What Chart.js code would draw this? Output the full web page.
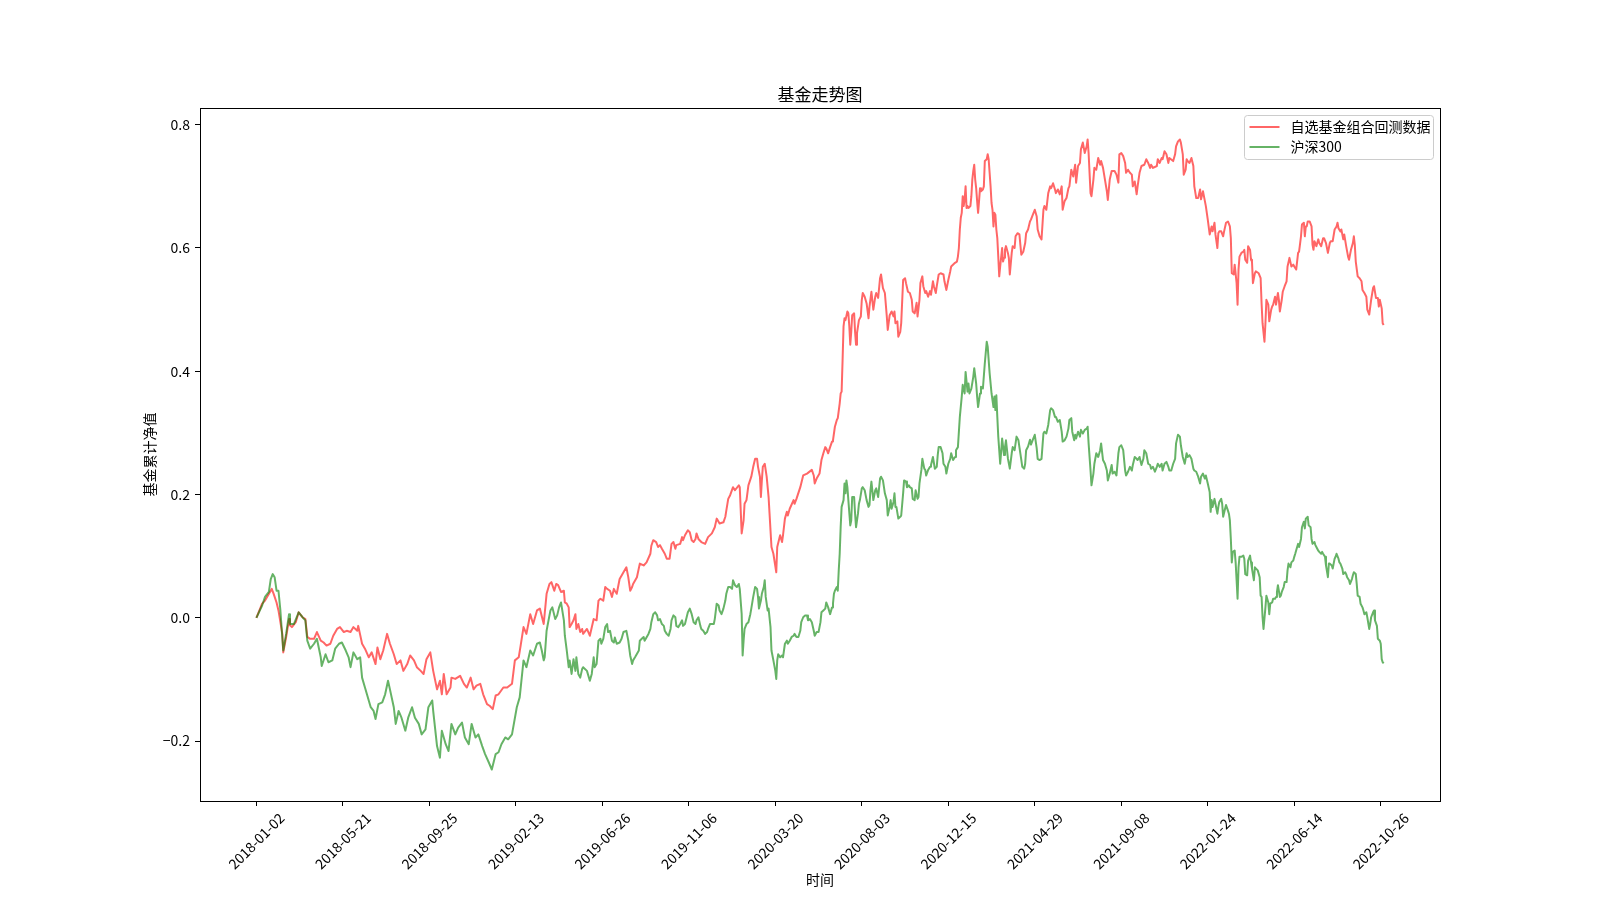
<!DOCTYPE html>
<html>
<head>
<meta charset="utf-8">
<title>基金走势图</title>
<script src="https://cdn.jsdelivr.net/npm/chart.js@4/dist/chart.umd.min.js"></script>
<style>
  html, body { margin: 0; padding: 0; background: #fff; }
  #wrap { width: 1600px; height: 900px; }
</style>
</head>
<body>
<div id="wrap"><canvas id="myChart" width="1600" height="900"></canvas></div>
<script>
// 交易日序号 -> 日期（x轴刻度，每90个交易日一个）
const tickDay = [0, 90, 180, 270, 360, 450, 540, 630, 720, 810, 900, 990, 1080, 1170];
const tickDates = ['2018-01-02', '2018-05-21', '2018-09-25', '2019-02-13', '2019-06-26', '2019-11-06',
    '2020-03-20', '2020-08-03', '2020-12-15', '2021-04-29', '2021-09-08', '2022-01-24', '2022-06-14', '2022-10-26'];
const yTicks = [-0.2, 0, 0.2, 0.4, 0.6, 0.8];

// [交易日序号, 累计净值]
const fund = [
    [0,0],[6,0.023],[9,0.028],[16,0.047],[18,0.039],[21,0.025],[23,0.012],[27,-0.026],[28,-0.056],[31,-0.031],
    [34,-0.002],[35,-0.012],[37,-0.015],[41,-0.007],[44,0.009],[48,0.001],[51,-0.002],[53,-0.031],[56,-0.034],[60,-0.034],
    [63,-0.023],[67,-0.037],[70,-0.040],[73,-0.045],[77,-0.042],[80,-0.029],[84,-0.018],[87,-0.015],[91,-0.023],[94,-0.021],
    [98,-0.023],[101,-0.015],[105,-0.021],[106,-0.013],[110,-0.042],[113,-0.050],[117,-0.064],[120,-0.056],[124,-0.075],[126,-0.048],
    [129,-0.067],[132,-0.053],[136,-0.026],[139,-0.042],[143,-0.059],[146,-0.075],[150,-0.069],[153,-0.086],[157,-0.075],[160,-0.061],
    [164,-0.069],[167,-0.080],[171,-0.086],[174,-0.091],[177,-0.067],[181,-0.056],[184,-0.086],[188,-0.116],[191,-0.102],[193,-0.124],
    [195,-0.091],[198,-0.124],[202,-0.113],[203,-0.097],[207,-0.099],[212,-0.094],[216,-0.107],[219,-0.113],[223,-0.097],[226,-0.116],
    [229,-0.110],[233,-0.107],[236,-0.124],[240,-0.140],[243,-0.143],[246,-0.148],[249,-0.126],[252,-0.124],[257,-0.113],[261,-0.113],
    [266,-0.107],[269,-0.069],[273,-0.064],[275,-0.045],[278,-0.015],[281,-0.026],[285,0.006],[288,-0.010],[292,0.012],[295,0.015],
    [299,-0.010],[302,0.039],[305,0.055],[307,0.058],[310,0.044],[312,0.055],[314,0.053],[317,0.042],[320,0.044],[321,0.025],
    [323,0.023],[325,0.017],[326,-0.015],[328,-0.010],[330,-0.004],[332,0.006],[333,-0.018],[335,-0.010],[337,-0.023],[339,-0.018],
    [340,-0.026],[344,-0.018],[347,-0.029],[351,-0.002],[354,-0.004],[356,0.028],[358,0.031],[361,0.028],[363,0.050],[365,0.047],
    [368,0.044],[370,0.034],[372,0.047],[373,0.044],[375,0.039],[378,0.063],[382,0.074],[385,0.082],[387,0.066],[389,0.044],
    [391,0.050],[392,0.055],[396,0.066],[399,0.088],[403,0.085],[406,0.090],[410,0.104],[411,0.117],[413,0.126],[416,0.123],
    [418,0.115],[420,0.118],[422,0.112],[425,0.104],[427,0.096],[430,0.096],[432,0.120],[434,0.123],[436,0.112],[437,0.118],
    [441,0.120],[443,0.131],[444,0.126],[446,0.134],[449,0.142],[451,0.139],[453,0.126],[455,0.123],[457,0.128],[458,0.137],
    [460,0.128],[463,0.123],[467,0.120],[470,0.131],[474,0.137],[477,0.147],[479,0.161],[482,0.153],[486,0.155],[488,0.164],
    [489,0.174],[491,0.193],[493,0.199],[496,0.212],[498,0.207],[502,0.215],[503,0.212],[505,0.137],[507,0.158],[508,0.185],
    [510,0.191],[512,0.215],[515,0.229],[517,0.245],[519,0.258],[521,0.258],[522,0.245],[524,0.229],[525,0.196],[526,0.223],
    [527,0.245],[529,0.250],[531,0.229],[533,0.196],[534,0.169],[536,0.115],[538,0.104],[541,0.074],[542,0.115],[545,0.134],
    [547,0.123],[548,0.134],[550,0.161],[552,0.172],[553,0.166],[555,0.177],[559,0.191],[560,0.185],[562,0.193],[566,0.212],
    [569,0.231],[573,0.234],[578,0.240],[580,0.231],[581,0.218],[583,0.226],[586,0.234],[588,0.256],[590,0.267],[592,0.277],
    [593,0.275],[595,0.267],[597,0.277],[599,0.286],[600,0.288],[602,0.310],[604,0.321],[605,0.324],[607,0.348],[608,0.364],
    [609,0.367],[610,0.418],[611,0.473],[612,0.486],[613,0.483],[615,0.497],[616,0.494],[617,0.473],[618,0.443],[619,0.464],
    [620,0.491],[622,0.494],[623,0.464],[624,0.443],[625,0.462],[627,0.483],[629,0.489],[630,0.516],[631,0.527],[633,0.521],
    [635,0.510],[637,0.486],[638,0.505],[640,0.529],[642,0.500],[644,0.521],[645,0.527],[647,0.519],[649,0.551],[650,0.557],
    [652,0.535],[654,0.527],[656,0.489],[657,0.467],[659,0.491],[661,0.497],[663,0.489],[664,0.497],[665,0.478],[667,0.481],
    [668,0.456],[670,0.464],[671,0.478],[673,0.548],[675,0.551],[676,0.543],[678,0.529],[680,0.527],[682,0.516],[683,0.497],
    [685,0.494],[687,0.511],[688,0.489],[690,0.516],[691,0.543],[693,0.554],[694,0.538],[696,0.527],[697,0.530],[699,0.521],
    [701,0.530],[702,0.524],[704,0.546],[705,0.538],[707,0.527],[708,0.538],[710,0.557],[712,0.559],[715,0.557],[716,0.546],
    [718,0.532],[720,0.548],[722,0.562],[723,0.570],[727,0.576],[729,0.578],[730,0.586],[731,0.600],[732,0.630],[733,0.649],
    [734,0.657],[735,0.684],[736,0.668],[737,0.679],[738,0.700],[739,0.665],[740,0.668],[741,0.665],[743,0.668],[744,0.684],
    [745,0.711],[746,0.725],[747,0.735],[748,0.711],[749,0.697],[750,0.676],[751,0.657],[752,0.676],[753,0.697],[754,0.692],
    [756,0.695],[757,0.700],[758,0.741],[760,0.744],[761,0.752],[762,0.744],[763,0.722],[764,0.700],[765,0.673],[766,0.662],
    [767,0.635],[768,0.657],[769,0.654],[770,0.630],[771,0.616],[772,0.586],[773,0.554],[774,0.570],[776,0.600],[777,0.578],
    [778,0.584],[779,0.597],[780,0.603],[782,0.592],[783,0.584],[784,0.557],[786,0.592],[787,0.603],[789,0.600],[790,0.619],
    [792,0.624],[794,0.622],[795,0.605],[796,0.589],[798,0.594],[800,0.608],[801,0.624],[803,0.630],[805,0.643],[806,0.646],
    [808,0.654],[810,0.662],[812,0.651],[813,0.630],[815,0.619],[817,0.614],[819,0.662],[820,0.668],[822,0.662],[824,0.689],
    [826,0.700],[827,0.697],[829,0.705],[831,0.695],[832,0.689],[834,0.695],[836,0.687],[838,0.700],[839,0.662],[841,0.676],
    [843,0.681],[845,0.697],[846,0.700],[848,0.727],[850,0.716],[852,0.735],[853,0.706],[855,0.733],[857,0.738],[858,0.760],
    [860,0.771],[862,0.754],[864,0.765],[865,0.776],[866,0.754],[868,0.689],[869,0.684],[871,0.711],[872,0.730],[874,0.727],
    [876,0.746],[878,0.735],[879,0.741],[881,0.730],[883,0.711],[885,0.692],[886,0.678],[888,0.711],[890,0.725],[891,0.725],
    [893,0.725],[895,0.719],[897,0.706],[898,0.752],[900,0.754],[902,0.749],[904,0.738],[905,0.722],[907,0.727],[909,0.722],
    [911,0.719],[912,0.700],[914,0.708],[916,0.687],[917,0.700],[919,0.722],[921,0.733],[924,0.735],[926,0.744],[928,0.738],
    [930,0.730],[931,0.735],[933,0.730],[937,0.733],[938,0.744],[940,0.738],[942,0.746],[943,0.744],[945,0.757],[947,0.752],
    [949,0.738],[950,0.746],[954,0.741],[956,0.752],[957,0.765],[959,0.773],[961,0.776],[962,0.771],[964,0.752],[965,0.719],
    [967,0.727],[968,0.744],[969,0.741],[971,0.738],[973,0.746],[975,0.733],[976,0.700],[978,0.681],[980,0.681],[982,0.695],
    [983,0.679],[985,0.692],[987,0.676],[988,0.668],[990,0.646],[992,0.622],[994,0.635],[995,0.627],[997,0.641],[998,0.622],
    [1000,0.600],[1001,0.624],[1002,0.627],[1004,0.627],[1006,0.619],[1007,0.627],[1009,0.641],[1011,0.643],[1013,0.635],[1014,0.616],
    [1015,0.559],[1017,0.557],[1018,0.573],[1020,0.543],[1021,0.508],[1022,0.565],[1023,0.586],[1025,0.592],[1027,0.594],[1028,0.597],
    [1029,0.581],[1031,0.576],[1032,0.603],[1034,0.597],[1035,0.581],[1036,0.578],[1037,0.543],[1039,0.559],[1040,0.562],[1043,0.559],
    [1045,0.551],[1046,0.510],[1047,0.478],[1049,0.448],[1050,0.478],[1051,0.516],[1053,0.508],[1054,0.481],[1056,0.500],[1057,0.505],
    [1058,0.508],[1060,0.521],[1061,0.508],[1063,0.527],[1064,0.516],[1065,0.497],[1067,0.516],[1068,0.529],[1070,0.538],[1072,0.546],
    [1073,0.570],[1075,0.584],[1077,0.570],[1079,0.573],[1080,0.570],[1082,0.565],[1084,0.592],[1085,0.594],[1087,0.619],[1088,0.638],
    [1090,0.641],[1091,0.619],[1092,0.635],[1093,0.635],[1094,0.643],[1096,0.643],[1098,0.635],[1099,0.605],[1100,0.597],[1101,0.611],
    [1103,0.603],[1105,0.614],[1106,0.608],[1108,0.603],[1110,0.616],[1111,0.616],[1113,0.608],[1115,0.592],[1117,0.608],[1118,0.611],
    [1120,0.611],[1122,0.630],[1124,0.635],[1125,0.641],[1126,0.632],[1128,0.627],[1129,0.630],[1131,0.614],[1132,0.622],[1134,0.603],
    [1136,0.586],[1137,0.581],[1139,0.597],[1141,0.608],[1142,0.619],[1143,0.605],[1144,0.578],[1146,0.554],[1148,0.551],[1150,0.546],
    [1151,0.532],[1153,0.527],[1155,0.521],[1156,0.500],[1158,0.492],[1160,0.516],[1162,0.535],[1163,0.538],[1165,0.519],[1167,0.519],
    [1168,0.505],[1169,0.516],[1171,0.502],[1172,0.478],[1173,0.475]
];

const hs300 = [
    [0,0],[6,0.020],[9,0.034],[13,0.042],[15,0.063],[17,0.071],[19,0.066],[21,0.044],[23,0.044],[25,0.012],
    [27,-0.032],[28,-0.053],[31,-0.026],[34,0.006],[35,-0.010],[39,-0.010],[42,0.001],[44,0.009],[48,0.001],[51,-0.004],
    [53,-0.037],[56,-0.050],[60,-0.042],[63,-0.034],[67,-0.064],[68,-0.078],[72,-0.059],[75,-0.072],[79,-0.069],[82,-0.050],
    [86,-0.042],[89,-0.040],[93,-0.053],[96,-0.064],[98,-0.080],[101,-0.056],[105,-0.067],[108,-0.064],[110,-0.097],[113,-0.113],
    [119,-0.145],[122,-0.151],[124,-0.164],[127,-0.140],[131,-0.137],[134,-0.124],[137,-0.102],[139,-0.116],[143,-0.145],[145,-0.172],
    [148,-0.151],[151,-0.162],[155,-0.183],[158,-0.162],[162,-0.145],[165,-0.162],[169,-0.172],[172,-0.189],[176,-0.181],[179,-0.145],
    [183,-0.134],[184,-0.151],[188,-0.208],[191,-0.227],[193,-0.183],[197,-0.205],[200,-0.216],[203,-0.172],[207,-0.189],[210,-0.178],
    [214,-0.170],[217,-0.194],[221,-0.205],[224,-0.172],[228,-0.194],[231,-0.189],[235,-0.208],[238,-0.221],[242,-0.235],[245,-0.246],
    [249,-0.221],[252,-0.218],[255,-0.205],[259,-0.194],[262,-0.197],[266,-0.189],[271,-0.145],[274,-0.129],[278,-0.069],[281,-0.080],
    [285,-0.053],[288,-0.061],[292,-0.042],[295,-0.040],[297,-0.053],[299,-0.069],[300,-0.064],[302,-0.021],[304,-0.004],[306,0.012],
    [308,0.017],[311,-0.002],[313,0.004],[315,0.017],[317,0.025],[320,-0.004],[321,-0.029],[323,-0.053],[325,-0.080],[326,-0.069],
    [328,-0.091],[330,-0.067],[332,-0.086],[333,-0.064],[335,-0.091],[337,-0.097],[339,-0.083],[340,-0.080],[344,-0.086],[347,-0.102],
    [349,-0.091],[351,-0.064],[352,-0.080],[354,-0.075],[356,-0.037],[358,-0.034],[359,-0.042],[361,-0.034],[363,-0.015],[365,-0.010],
    [366,-0.023],[368,-0.021],[370,-0.037],[372,-0.040],[373,-0.032],[375,-0.042],[378,-0.040],[380,-0.034],[382,-0.023],[385,-0.021],
    [387,-0.037],[389,-0.061],[391,-0.075],[392,-0.069],[394,-0.064],[398,-0.053],[399,-0.037],[401,-0.034],[403,-0.031],[404,-0.037],
    [408,-0.026],[410,-0.018],[411,-0.007],[413,0.006],[415,0.009],[417,0.004],[418,-0.004],[420,-0.002],[422,-0.010],[424,-0.013],
    [425,-0.021],[427,-0.026],[429,-0.029],[431,-0.018],[432,-0.004],[434,0.004],[436,0.001],[437,-0.013],[439,-0.015],[441,-0.010],
    [443,-0.004],[444,-0.013],[446,-0.010],[449,0.009],[451,0.015],[453,0.006],[455,-0.007],[457,-0.010],[458,-0.004],[460,0.001],
    [462,-0.013],[463,-0.018],[465,-0.021],[467,-0.026],[469,-0.023],[470,-0.018],[472,-0.010],[476,-0.010],[477,-0.002],[479,0.023],
    [481,0.020],[482,0.012],[484,0.006],[486,0.015],[488,0.028],[489,0.039],[491,0.050],[493,0.050],[495,0.047],[496,0.061],
    [498,0.053],[500,0.050],[502,0.055],[503,0.047],[505,0.006],[506,-0.061],[507,-0.037],[508,-0.018],[510,-0.010],[512,-0.007],
    [514,0.006],[515,0.015],[517,0.034],[519,0.050],[521,0.047],[522,0.034],[523,0.015],[525,0.028],[526,0.039],[528,0.050],
    [529,0.061],[530,0.034],[532,0.012],[533,0.015],[535,-0.015],[536,-0.053],[538,-0.069],[540,-0.086],[541,-0.099],[542,-0.069],
    [543,-0.059],[545,-0.064],[547,-0.061],[548,-0.064],[550,-0.042],[552,-0.037],[553,-0.042],[555,-0.037],[557,-0.031],[559,-0.029],
    [560,-0.026],[562,-0.031],[564,-0.031],[566,-0.021],[567,-0.007],[569,0.001],[571,0.004],[573,0.004],[574,-0.004],[576,-0.002],
    [578,-0.007],[580,-0.021],[581,-0.029],[583,-0.023],[585,-0.023],[587,-0.007],[588,0.009],[590,0.012],[592,0.015],[593,0.025],
    [595,0.017],[597,0.006],[599,0.017],[600,0.023],[601,0.039],[602,0.044],[604,0.050],[605,0.044],[606,0.077],[607,0.104],
    [608,0.147],[609,0.180],[611,0.191],[612,0.218],[613,0.202],[614,0.223],[615,0.212],[616,0.191],[618,0.150],[619,0.158],
    [620,0.196],[622,0.196],[623,0.169],[624,0.147],[626,0.169],[627,0.185],[628,0.191],[630,0.210],[631,0.212],[633,0.207],
    [635,0.191],[637,0.180],[638,0.183],[639,0.207],[640,0.221],[642,0.191],[644,0.207],[645,0.210],[647,0.196],[649,0.226],
    [650,0.229],[652,0.223],[654,0.202],[656,0.191],[657,0.166],[659,0.180],[660,0.191],[661,0.177],[663,0.188],[664,0.202],
    [665,0.180],[666,0.180],[668,0.161],[670,0.164],[671,0.166],[673,0.202],[674,0.223],[676,0.221],[677,0.212],[679,0.215],
    [680,0.212],[682,0.210],[683,0.193],[685,0.191],[686,0.207],[688,0.193],[689,0.196],[690,0.218],[692,0.240],[693,0.258],
    [695,0.242],[696,0.240],[697,0.231],[699,0.240],[701,0.245],[702,0.248],[704,0.261],[706,0.242],[708,0.245],[709,0.264],
    [710,0.277],[712,0.277],[714,0.267],[715,0.250],[717,0.245],[718,0.234],[720,0.250],[722,0.258],[723,0.267],[725,0.256],
    [727,0.261],[728,0.272],[730,0.277],[732,0.326],[734,0.359],[735,0.378],[737,0.364],[738,0.399],[740,0.367],[741,0.380],
    [742,0.364],[744,0.372],[746,0.391],[747,0.405],[749,0.380],[750,0.359],[751,0.342],[753,0.364],[754,0.375],[756,0.372],
    [758,0.413],[760,0.448],[761,0.440],[763,0.397],[765,0.364],[767,0.342],[768,0.359],[769,0.337],[770,0.361],[771,0.326],
    [772,0.294],[774,0.250],[775,0.269],[776,0.291],[778,0.264],[779,0.277],[780,0.288],[782,0.259],[784,0.242],[786,0.267],
    [787,0.277],[789,0.272],[791,0.294],[793,0.288],[794,0.277],[796,0.256],[797,0.245],[799,0.242],[800,0.250],[801,0.272],
    [803,0.278],[805,0.289],[806,0.281],[808,0.289],[810,0.297],[812,0.275],[813,0.258],[815,0.256],[817,0.258],[819,0.299],
    [820,0.302],[822,0.299],[824,0.313],[826,0.337],[827,0.340],[829,0.337],[831,0.326],[832,0.326],[834,0.318],[836,0.321],
    [838,0.302],[839,0.286],[841,0.288],[843,0.294],[845,0.307],[846,0.321],[848,0.324],[849,0.302],[851,0.288],[852,0.297],
    [853,0.291],[855,0.302],[857,0.294],[858,0.305],[860,0.299],[862,0.305],[864,0.307],[865,0.310],[866,0.283],[868,0.239],
    [869,0.215],[871,0.234],[872,0.250],[874,0.267],[876,0.261],[878,0.272],[879,0.283],[881,0.256],[883,0.250],[885,0.239],
    [886,0.223],[888,0.234],[890,0.248],[891,0.234],[893,0.237],[895,0.231],[897,0.267],[898,0.277],[900,0.280],[902,0.272],
    [904,0.239],[905,0.231],[907,0.237],[909,0.245],[911,0.239],[912,0.248],[914,0.261],[916,0.258],[917,0.256],[919,0.261],
    [921,0.248],[923,0.258],[924,0.272],[926,0.267],[928,0.250],[930,0.248],[931,0.242],[933,0.245],[935,0.237],[937,0.245],
    [938,0.250],[940,0.245],[942,0.250],[943,0.239],[945,0.250],[947,0.253],[949,0.245],[950,0.239],[952,0.239],[954,0.250],
    [956,0.258],[957,0.283],[959,0.297],[961,0.294],[962,0.280],[964,0.261],[966,0.250],[968,0.267],[969,0.261],[971,0.264],
    [973,0.258],[975,0.242],[976,0.239],[978,0.237],[980,0.229],[982,0.218],[983,0.229],[985,0.234],[987,0.226],[988,0.231],
    [990,0.218],[992,0.204],[993,0.172],[994,0.191],[995,0.180],[997,0.193],[998,0.185],[1000,0.169],[1001,0.180],[1002,0.188],
    [1004,0.193],[1005,0.185],[1006,0.164],[1008,0.177],[1009,0.183],[1011,0.174],[1012,0.169],[1013,0.158],[1014,0.128],[1015,0.090],
    [1016,0.107],[1018,0.109],[1019,0.090],[1020,0.061],[1021,0.031],[1022,0.082],[1023,0.099],[1025,0.099],[1027,0.101],[1028,0.096],
    [1029,0.071],[1031,0.069],[1032,0.093],[1034,0.101],[1035,0.090],[1036,0.080],[1038,0.061],[1039,0.082],[1040,0.080],[1042,0.077],
    [1044,0.066],[1045,0.036],[1046,0.034],[1047,0.001],[1048,-0.018],[1050,0.017],[1051,0.036],[1053,0.025],[1054,0.006],[1055,0.023],
    [1057,0.025],[1058,0.031],[1060,0.031],[1061,0.034],[1062,0.042],[1063,0.053],[1065,0.034],[1066,0.036],[1067,0.042],[1069,0.050],
    [1070,0.058],[1072,0.058],[1073,0.077],[1074,0.088],[1076,0.082],[1077,0.090],[1079,0.093],[1080,0.099],[1081,0.104],[1083,0.115],
    [1084,0.120],[1085,0.115],[1087,0.128],[1088,0.147],[1090,0.156],[1091,0.145],[1092,0.161],[1094,0.164],[1095,0.150],[1097,0.147],
    [1098,0.128],[1099,0.120],[1101,0.123],[1102,0.118],[1103,0.115],[1105,0.109],[1106,0.107],[1108,0.104],[1109,0.107],[1110,0.104],
    [1112,0.099],[1113,0.085],[1115,0.066],[1116,0.088],[1117,0.088],[1119,0.085],[1120,0.080],[1122,0.096],[1123,0.099],[1124,0.104],
    [1126,0.096],[1127,0.090],[1128,0.088],[1130,0.080],[1131,0.071],[1133,0.074],[1134,0.071],[1135,0.066],[1137,0.061],[1138,0.055],
    [1140,0.063],[1141,0.069],[1142,0.074],[1144,0.071],[1145,0.055],[1146,0.036],[1148,0.034],[1149,0.023],[1151,0.017],[1152,0.012],
    [1153,0.006],[1155,0.009],[1156,0.001],[1158,-0.018],[1159,-0.010],[1160,0.001],[1162,0.009],[1163,0.012],[1164,-0.004],[1166,-0.013],
    [1167,-0.034],[1169,-0.037],[1170,-0.042],[1171,-0.067],[1172,-0.072],[1173,-0.074]
];

const FONT = '"Noto Sans CJK SC", "Noto Sans", sans-serif';
Chart.defaults.font.family = FONT;
Chart.defaults.font.size = 14;
Chart.defaults.color = '#000';

// matplotlib 一样的 5% 边距
const lastDay = fund[fund.length - 1][0];
const allVals = fund.concat(hs300).map(p => p[1]);
const vMin = Math.min(...allVals), vMax = Math.max(...allVals);
const vPad = (vMax - vMin) * 0.05;

// 外框、旋转的日期标签、图例
const framePlugin = {
    id: 'framePlugin',
    afterDraw(chart) {
        const { ctx, chartArea: a, scales: { x } } = chart;
        ctx.save();
        ctx.strokeStyle = '#000';
        ctx.lineWidth = 1;
        ctx.strokeRect(Math.round(a.left) + 0.5, Math.round(a.top) + 0.5,
            Math.round(a.right - a.left), Math.round(a.bottom - a.top));

        ctx.fillStyle = '#000';
        ctx.font = '14px ' + FONT;
        ctx.textAlign = 'center';
        ctx.textBaseline = 'middle';
        x.ticks.forEach((t, i) => {
            ctx.save();
            ctx.translate(x.getPixelForValue(t.value), a.bottom + 40);
            ctx.rotate(-Math.PI / 4);
            ctx.fillText(tickDates[i], 0, 0);
            ctx.restore();
        });

        // 图例
        const lx = a.right - 195.5, ly = a.top + 7.5;
        ctx.beginPath();
        ctx.roundRect(lx, ly, 189, 44, 3);
        ctx.fillStyle = 'rgba(255,255,255,0.8)';
        ctx.fill();
        ctx.strokeStyle = '#cccccc';
        ctx.stroke();
        const items = chart.data.datasets.slice().sort((p, q) => q.order - p.order);
        items.forEach((ds, i) => {
            const yy = ly + 11.5 + i * 20;
            ctx.beginPath();
            ctx.moveTo(lx + 5, yy);
            ctx.lineTo(lx + 35, yy);
            ctx.strokeStyle = ds.borderColor;
            ctx.lineWidth = 2;
            ctx.stroke();
            ctx.fillStyle = '#000';
            ctx.textAlign = 'left';
            ctx.fillText(ds.label, lx + 46, yy);
        });
        ctx.restore();
    }
};

const ctx = document.getElementById('myChart').getContext('2d');
const myChart = new Chart(ctx, {
    type: 'line',
    data: {
        datasets: [{
            label: '沪深300',
            data: hs300.map(p => ({ x: p[0], y: p[1] })),
            borderColor: 'rgba(0,128,0,0.6)',
            order: 0
        }, {
            label: '自选基金组合回测数据',
            data: fund.map(p => ({ x: p[0], y: p[1] })),
            borderColor: 'rgba(255,0,0,0.6)',
            order: 1
        }]
    },
    options: {
        responsive: false,
        maintainAspectRatio: false,
        animation: false,
        devicePixelRatio: 1,
        layout: { padding: { left: 0, right: 160, top: 0, bottom: 0 } },
        elements: {
            point: { radius: 0 },
            line: { borderWidth: 2, tension: 0, borderJoinStyle: 'round', fill: false }
        },
        plugins: {
            legend: { display: false },
            tooltip: { enabled: false },
            title: {
                display: true,
                text: '基金走势图',
                fullSize: false,
                font: { size: 17, weight: 'normal' },
                color: '#000',
                padding: { top: 84, bottom: 3.6 }
            }
        },
        scales: {
            x: {
                type: 'linear',
                min: -0.05 * lastDay,
                max: 1.05 * lastDay,
                afterBuildTicks: s => { s.ticks = tickDay.map(v => ({ value: v })); },
                afterFit: s => { s.height = 99; },
                ticks: { display: false, autoSkip: false },
                grid: { drawOnChartArea: false, drawTicks: true, tickLength: 5, color: '#000' },
                border: { display: false },
                title: { display: true, text: '时间', padding: { top: 0, bottom: 11.6 } }
            },
            y: {
                type: 'linear',
                min: vMin - vPad,
                max: vMax + vPad,
                afterBuildTicks: s => { s.ticks = yTicks.map(v => ({ value: v })); },
                afterFit: s => { s.width = 200; },
                ticks: {
                    padding: 5,
                    callback: v => (v < 0 ? '\u2212' : '') + Math.abs(v).toFixed(1)
                },
                grid: { drawOnChartArea: false, drawTicks: true, tickLength: 5, color: '#000' },
                border: { display: false },
                title: { display: true, text: '基金累计净值', padding: { top: 141, bottom: 0 } }
            }
        }
    },
    plugins: [framePlugin]
});
</script>
</body>
</html>
